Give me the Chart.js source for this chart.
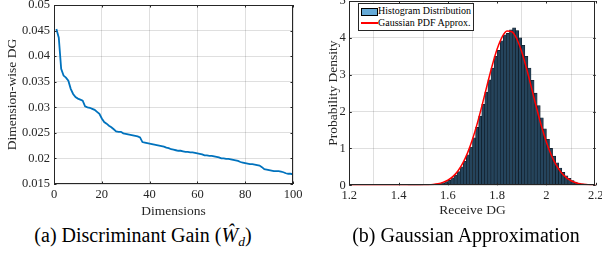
<!DOCTYPE html>
<html>
<head>
<meta charset="utf-8">
<script src="https://cdn.jsdelivr.net/npm/chart.js@4.4.0/dist/chart.umd.min.js"></script>
<style>
  html, body { margin:0; padding:0; background:#fff; }
  body { width:602px; height:261px; position:relative; overflow:hidden; font-family:"Liberation Serif","DejaVu Serif",serif; }
  canvas { position:absolute; top:0; }
  #c1 { left:0; }
  #c2 { left:300px; }
  .cap { position:absolute; top:224px; width:300px; text-align:center; font-size:20px; line-height:22px; color:#000; white-space:nowrap; }
  .cap sub { font-size:13.5px; vertical-align:-4px; line-height:0; }
  #legend { position:absolute; left:358px; top:3px; width:114px; height:26px; border:1px solid #262626; background:#fff; font-size:10px; color:#000; }
  .li { position:absolute; left:19px; white-space:nowrap; line-height:12px; }
  .sw { position:absolute; left:2px; top:4px; width:15px; height:6px; background:#66aad7; border:1px solid #000; }
  .ln { position:absolute; left:2px; top:18px; width:17px; height:1.5px; background:#ff0000; }
</style>
</head>
<body>
<canvas id="c1" width="312" height="220"></canvas>
<canvas id="c2" width="302" height="220"></canvas>
<div class="cap" style="left:-7px;">(a) Discriminant Gain (<i>Ŵ</i><sub><i>d</i></sub>)</div>
<div class="cap" style="left:316px;">(b) Gaussian Approximation</div>
<div id="legend">
  <div class="sw"></div><div class="li" style="top:1px;">Histogram Distribution</div>
  <div class="ln"></div><div class="li" style="top:13px;">Gaussian PDF Approx.</div>
</div>
<script>
// ---------- Data: left panel ----------
const dgValues = [
  0.0453,0.0436,0.0375,0.0362,0.0358,0.0352,0.0336,0.0326,0.0320,0.0317,
  0.0315,0.0313,0.0302,0.0300,0.0299,0.0297,0.0295,0.0291,0.0287,0.0278,
  0.0271,0.0268,0.0264,0.0261,0.0257,0.0253,0.0252,0.0252,0.0249,0.0248,
  0.0247,0.0246,0.0245,0.0244,0.0243,0.0241,0.0232,0.0231,0.0230,0.0229,
  0.0228,0.0227,0.0226,0.0225,0.0224,0.0223,0.0221,0.0220,0.0218,0.0217,
  0.0216,0.0215,0.0215,0.0214,0.0213,0.0213,0.0212,0.0212,0.0211,0.0210,
  0.0209,0.0208,0.0206,0.0206,0.0205,0.0205,0.0204,0.0203,0.0202,0.0200,
  0.0200,0.0199,0.0199,0.0198,0.0197,0.0196,0.0195,0.0193,0.0192,0.0191,
  0.0190,0.0189,0.0189,0.0188,0.0187,0.0186,0.0183,0.0179,0.0178,0.0177,
  0.0176,0.0175,0.0175,0.0175,0.0174,0.0173,0.0171,0.0170,0.0170,0.0169
];
const dimensions = dgValues.map((_, i) => i + 1);
const leftXTicks = [0, 20, 40, 60, 80, 100];
const leftYTicks = [0.015, 0.02, 0.025, 0.03, 0.035, 0.04, 0.045, 0.05];

// ---------- Data: right panel ----------
const binCenters = [
  1.40625,1.41875,1.43125,1.44375,1.45625,1.46875,1.48125,1.49375,
  1.50625,1.51875,1.53125,1.54375,1.55625,1.56875,1.58125,1.59375,
  1.60625,1.61875,1.63125,1.64375,1.65625,1.66875,1.68125,1.69375,
  1.70625,1.71875,1.73125,1.74375,1.75625,1.76875,1.78125,1.79375,
  1.80625,1.81875,1.83125,1.84375,1.85625,1.86875,1.88125,1.89375,
  1.90625,1.91875,1.93125,1.94375,1.95625,1.96875,1.98125,1.99375,
  2.00625,2.01875,2.03125,2.04375,2.05625,2.06875,2.08125,2.09375,
  2.10625,2.11875,2.13125,2.14375,2.15625,2.16875,2.18125,2.19375
];
const histDensity = [
  0.000,0.000,0.000,0.001,0.001,0.002,0.003,0.005,
  0.010,0.010,0.020,0.020,0.030,0.050,0.070,0.100,
  0.140,0.200,0.280,0.370,0.500,0.650,0.830,1.040,
  1.290,1.570,1.880,2.200,2.530,2.860,3.180,3.500,
  3.660,3.920,4.080,4.120,4.220,4.270,4.200,4.000,
  3.800,3.500,3.180,2.850,2.500,2.160,1.830,1.530,
  1.250,1.000,0.790,0.610,0.470,0.350,0.260,0.190,
  0.130,0.090,0.060,0.040,0.030,0.020,0.010,0.010
];
const pdfX = [
  1.20,1.22,1.24,1.26,1.28,1.30,1.32,1.34,1.36,1.38,
  1.40,1.42,1.44,1.46,1.48,1.50,1.52,1.54,1.56,1.58,
  1.60,1.62,1.64,1.66,1.68,1.70,1.72,1.74,1.76,1.78,
  1.80,1.82,1.84,1.86,1.88,1.90,1.92,1.94,1.96,1.98,
  2.00,2.02,2.04,2.06,2.08,2.10,2.12,2.14,2.16,2.18,2.20
];
const pdfY = [
  0,0,0,0,0,0,0,0,0,0,
  0.0001,0.0002,0.0004,0.001,0.0023,0.005,0.011,0.022,0.042,0.079,
  0.139,0.236,0.382,0.593,0.880,1.249,1.694,2.201,2.735,3.251,
  3.697,4.021,4.185,4.167,3.969,3.616,3.152,2.628,2.096,1.600,
  1.168,0.816,0.545,0.348,0.213,0.124,0.070,0.037,0.019,0.009,0.004
];
const rightXTicks = [1.2, 1.4, 1.6, 1.8, 2, 2.2];
const rightYTicks = [0, 1, 2, 3, 4, 5];

// ---------- Styling helpers ----------
const AX = '#262626';
const GRID = 'rgba(38,38,38,0.15)';
const tickFont = { family: '"Liberation Serif", serif', size: 12.5 };
const titleFont = { family: '"Liberation Serif", serif', size: 13.5 };
const fmt = v => String(Number(v.toFixed(4)));

const boxPlugin = {
  id: 'matlabBox',
  afterDraw(chart) {
    const { ctx, chartArea: a, scales: { x, y } } = chart;
    const tl = 2.5;
    ctx.save();
    ctx.strokeStyle = AX;
    ctx.lineWidth = 1;
    ctx.beginPath();
    x.ticks.forEach(t => {
      const px = Math.round(x.getPixelForValue(t.value)) + 0.5;
      ctx.moveTo(px, a.bottom); ctx.lineTo(px, a.bottom - tl);
      ctx.moveTo(px, a.top); ctx.lineTo(px, a.top + tl);
    });
    y.ticks.forEach(t => {
      const py = Math.round(y.getPixelForValue(t.value)) + 0.5;
      ctx.moveTo(a.left, py); ctx.lineTo(a.left + tl, py);
      ctx.moveTo(a.right, py); ctx.lineTo(a.right - tl, py);
    });
    ctx.stroke();
    ctx.strokeRect(Math.round(a.left) + 0.5, Math.round(a.top) + 0.5,
                   Math.round(a.right - a.left) - 1, Math.round(a.bottom - a.top) - 1);
    ctx.restore();
  }
};

function axisX(min, max, ticksArr, title, h, tickPad, titlePadBottom) {
  return {
    type: 'linear', min, max, offset: false,
    afterBuildTicks: s => { s.ticks = ticksArr.map(v => ({ value: v })); },
    afterFit: s => { s.height = h; s.paddingLeft = 0; s.paddingRight = 0; },
    ticks: { font: tickFont, color: AX, padding: tickPad, maxRotation: 0, autoSkip: false, callback: fmt },
    grid: { color: GRID, drawTicks: false, lineWidth: 1 },
    border: { display: false },
    title: { display: true, text: title, font: titleFont, color: AX, padding: { top: 0, bottom: titlePadBottom } }
  };
}
function axisY(min, max, ticksArr, title, w, tickPad, titlePadTop) {
  return {
    type: 'linear', min, max,
    afterBuildTicks: s => { s.ticks = ticksArr.map(v => ({ value: v })); },
    afterFit: s => { s.width = w; s.paddingTop = 0; s.paddingBottom = 0; },
    ticks: { font: tickFont, color: AX, padding: tickPad, autoSkip: false, callback: fmt },
    grid: { color: GRID, drawTicks: false, lineWidth: 1 },
    border: { display: false },
    title: { display: true, text: title, font: titleFont, color: AX, padding: { top: titlePadTop, bottom: 0 } }
  };
}

// ---------- Left chart ----------
new Chart(document.getElementById('c1'), {
  type: 'line',
  data: {
    datasets: [{
      data: dimensions.map((d, i) => ({ x: d, y: dgValues[i] })),
      borderColor: '#0072BD', borderWidth: 1.8, pointRadius: 0, tension: 0, fill: false
    }]
  },
  options: {
    responsive: false, animation: false, devicePixelRatio: 1,
    layout: { padding: { top: 5, right: 19, left: 0, bottom: 0 } },
    plugins: { legend: { display: false }, tooltip: { enabled: false } },
    scales: {
      x: axisX(0, 100, leftXTicks, 'Dimensions', 36, 3.5, 0.4),
      y: axisY(0.015, 0.05, leftYTicks, 'Dimension-wise DG', 54, 4, 4)
    }
  },
  plugins: [boxPlugin]
});

// ---------- Right chart ----------
new Chart(document.getElementById('c2'), {
  type: 'bar',
  data: {
    datasets: [
      {
        type: 'line', order: 1,
        data: pdfX.map((v, i) => ({ x: v, y: pdfY[i] })),
        borderColor: '#ff0000', borderWidth: 1.5, pointRadius: 0,
        cubicInterpolationMode: 'monotone', fill: false
      },
      {
        type: 'bar', order: 2,
        data: binCenters.map((v, i) => ({ x: v, y: histDensity[i] })),
        backgroundColor: '#25445c', borderColor: '#0b1620', borderWidth: 0.6,
        barPercentage: 1, categoryPercentage: 1, grouped: false
      }
    ]
  },
  options: {
    responsive: false, animation: false, devicePixelRatio: 1,
    layout: { padding: { top: 1, right: 6.3, left: 0, bottom: 0 } },
    plugins: { legend: { display: false }, tooltip: { enabled: false } },
    scales: {
      x: axisX(1.2, 2.2, rightXTicks, 'Receive DG', 34.7, 2.5, 1.9),
      y: axisY(0, 5, rightYTicks, 'Probability Density', 49.3, 3.6, 25)
    }
  },
  plugins: [boxPlugin]
});
</script>
</body>
</html>
